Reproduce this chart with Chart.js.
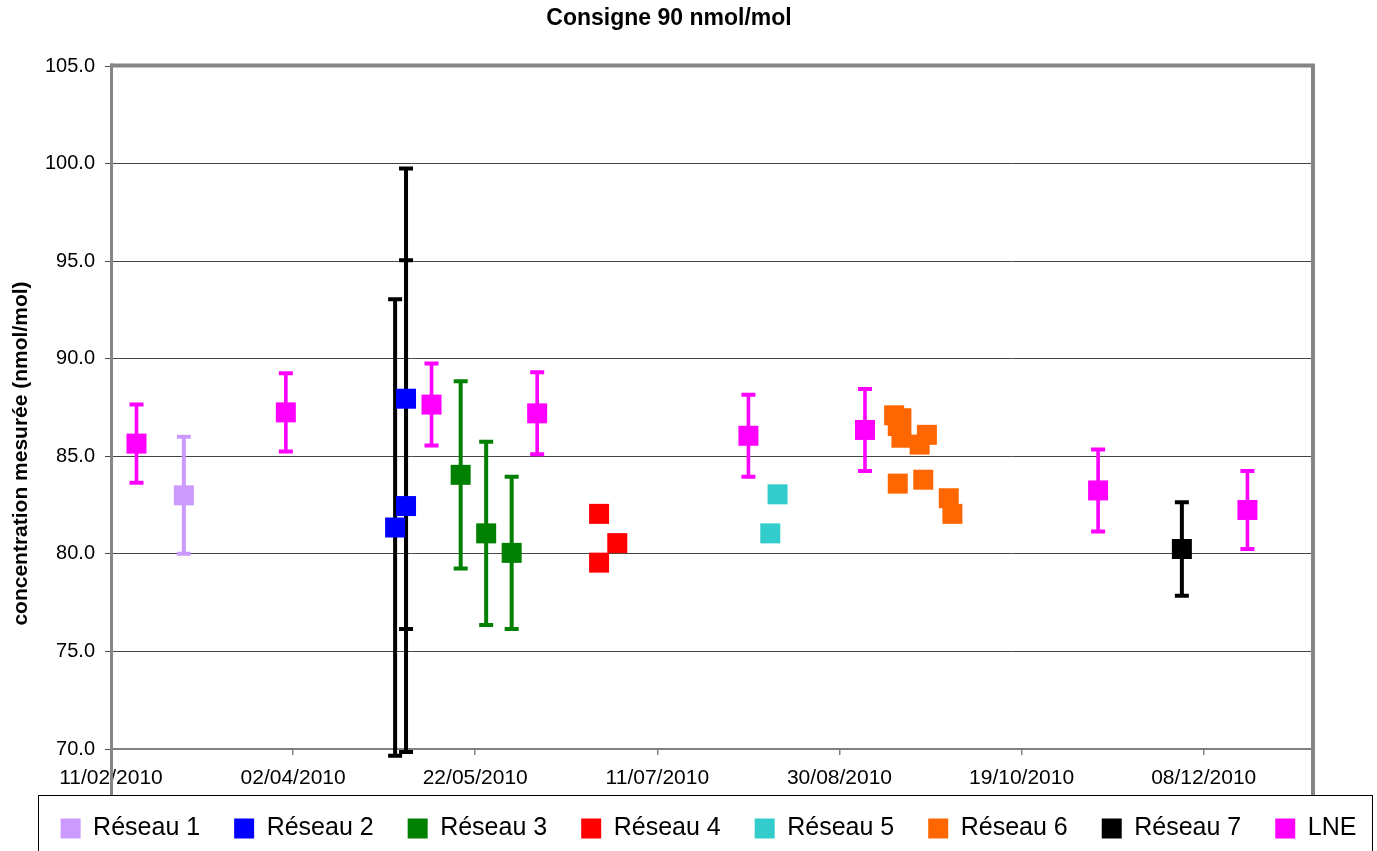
<!DOCTYPE html>
<html>
<head>
<meta charset="utf-8">
<script src="https://cdn.jsdelivr.net/npm/chart.js@4/dist/chart.umd.min.js"></script>
<style>
  html, body { margin: 0; padding: 0; background: #fff; }
  #wrap { width: 1377px; height: 851px; }
</style>
</head>
<body>
<div id="wrap"><canvas id="c" width="1377" height="851"></canvas></div>
<script>
// ---------- data ----------
const chartTitle = 'Consigne 90 nmol/mol';
const yAxisTitle = 'concentration mesurée (nmol/mol)';
const tickDates = ['11/02/2010','02/04/2010','22/05/2010','11/07/2010','30/08/2010','19/10/2010','08/12/2010'];
const xMinDate = '11/02/2010';
const xMaxDate = '07/01/2011';
const yMin = 70, yMax = 105, yStep = 5;

const seriesNames = ['Réseau 1','Réseau 2','Réseau 3','Réseau 4','Réseau 5','Réseau 6','Réseau 7','LNE'];

const r1Dates  = ['03/03/2010'];
const r1Values = [83.0];
const r1Err    = [3.0];

const r2Dates  = ['30/04/2010','03/05/2010','03/05/2010'];
const r2Values = [81.35, 87.95, 82.45];
const r2Err    = [11.7, 11.8, 12.6];

const r3Dates  = ['18/05/2010','25/05/2010','01/06/2010'];
const r3Values = [84.05, 81.05, 80.05];
const r3Err    = [4.8, 4.7, 3.9];

const r4Dates  = ['25/06/2010','25/06/2010','30/06/2010'];
const r4Values = [82.05, 79.55, 80.55];

const r5Dates  = ['11/08/2010','13/08/2010'];
const r5Values = [81.05, 83.05];

const r6Dates  = ['14/09/2010','15/09/2010','16/09/2010','16/09/2010','21/09/2010','23/09/2010','15/09/2010','22/09/2010','29/09/2010','30/09/2010'];
const r6Values = [87.1, 86.55, 86.95, 85.95, 85.6, 86.1, 83.6, 83.8, 82.85, 82.05];

const r7Dates  = ['02/12/2010'];
const r7Values = [80.25];
const r7Err    = [2.4];

const lneDates  = ['18/02/2010','31/03/2010','10/05/2010','08/06/2010','05/08/2010','06/09/2010','09/11/2010','20/12/2010'];
const lneValues = [85.65, 87.25, 87.65, 87.2, 86.05, 86.35, 83.25, 82.25];
const lneErr    = [2.0, 2.0, 2.1, 2.1, 2.1, 2.1, 2.1, 2.0];

// ---------- helpers ----------
const FONT = "'Liberation Sans', Arial, sans-serif";
function day(s) { const [d, m, y] = s.split('/').map(Number); return Date.UTC(y, m - 1, d) / 86400000; }
function pts(dates, values) { return dates.map((d, i) => ({ x: day(d), y: values[i] })); }

function ds(name, dates, values, color, err, errColor, errWidth) {
  return {
    label: name,
    data: pts(dates, values),
    backgroundColor: color,
    borderColor: color,
    borderWidth: 0,
    pointStyle: 'rect',
    pointRadius: 14.14,
    pointHoverRadius: 14.14,
    xAxisID: 'x',
    yAxisID: 'y',
    errorBars: err || null,
    errorColor: errColor || color,
    errorWidth: errWidth || 4
  };
}

const datasets = [
  ds(seriesNames[0], r1Dates, r1Values, '#CC99FF', r1Err, '#CC99FF'),
  ds(seriesNames[1], r2Dates, r2Values, '#0000FF', r2Err, '#000000'),
  ds(seriesNames[2], r3Dates, r3Values, '#008000', r3Err, '#008000'),
  ds(seriesNames[3], r4Dates, r4Values, '#FF0000'),
  ds(seriesNames[4], r5Dates, r5Values, '#33CCCC'),
  ds(seriesNames[5], r6Dates, r6Values, '#FF6600'),
  ds(seriesNames[6], r7Dates, r7Values, '#000000', r7Err, '#000000'),
  ds(seriesNames[7], lneDates, lneValues, '#FF00FF', lneErr, '#FF00FF', 3.6)
];

// ---------- plugins ----------
const errorBarPlugin = {
  id: 'errorBars',
  beforeDatasetsDraw(chart) {
    const { ctx } = chart;
    const xs = chart.scales.x, ys = chart.scales.y;
    chart.data.datasets.forEach((d) => {
      if (!d.errorBars) return;
      ctx.save();
      ctx.strokeStyle = d.errorColor;
      ctx.lineCap = 'butt';
      d.data.forEach((p, j) => {
        const e = d.errorBars[j];
        const x = xs.getPixelForValue(p.x);
        const yt = ys.getPixelForValue(p.y + e);
        const yb = ys.getPixelForValue(p.y - e);
        ctx.lineWidth = d.errorWidth;
        ctx.beginPath();
        ctx.moveTo(x, yt); ctx.lineTo(x, yb);
        ctx.stroke();
        ctx.lineWidth = 4;
        ctx.beginPath();
        ctx.moveTo(x - 7, yt); ctx.lineTo(x + 7, yt);
        ctx.moveTo(x - 7, yb); ctx.lineTo(x + 7, yb);
        ctx.stroke();
      });
      ctx.restore();
    });
  }
};

const framePlugin = {
  id: 'excelFrame',
  afterLayout(chart) {
    const t = chart.titleBlock;
    if (t) { t.left -= 19.5; t.right -= 19.5; }
    const l = chart.legend;
    if (l) { l.left += 20; l.right += 20; }
    // let the date labels overflow into the space above the legend frame
    const xs = chart.scales.x;
    if (xs) { xs.bottom += 12; }
  },
  afterDraw(chart) {
    const { ctx, chartArea: a, legend: l } = chart;
    const bt = l.top + 13;
    ctx.save();
    ctx.strokeStyle = '#868686';
    ctx.lineWidth = 3;
    ctx.beginPath();
    ctx.moveTo(a.left + 0.5, a.top - 2.5); ctx.lineTo(a.left + 0.5, bt);
    ctx.stroke();
    ctx.lineWidth = 4;
    ctx.beginPath();
    ctx.moveTo(a.left - 1, a.top - 0.5); ctx.lineTo(a.right + 2, a.top - 0.5);
    ctx.moveTo(a.right, a.top - 2.5); ctx.lineTo(a.right, bt);
    ctx.stroke();
    // legend frame
    ctx.strokeStyle = '#000';
    ctx.lineWidth = 1;
    ctx.strokeRect(l.left + 18.5, bt + 0.5, (l.right - 25) - (l.left + 18), 120);
    // y axis title
    ctx.fillStyle = '#000';
    ctx.font = 'bold 21px ' + FONT;
    ctx.textAlign = 'center';
    ctx.textBaseline = 'middle';
    ctx.translate(21, (a.top + a.bottom) / 2 + 46);
    ctx.rotate(-Math.PI / 2);
    ctx.fillText(yAxisTitle, 0, 0);
    ctx.restore();
  }
};

// ---------- chart ----------
new Chart(document.getElementById('c'), {
  type: 'scatter',
  data: { datasets },
  plugins: [errorBarPlugin, framePlugin],
  options: {
    responsive: false,
    animation: false,
    events: [],
    layout: { padding: { left: 0, right: 0, top: 0, bottom: 0 } },
    plugins: {
      tooltip: { enabled: false },
      title: {
        display: true,
        text: chartTitle,
        color: '#000',
        font: { family: FONT, size: 23, weight: 'bold' },
        padding: { top: 5, bottom: 33.4 }
      },
      legend: {
        display: true,
        position: 'bottom',
        align: 'center',
        labels: {
          boxWidth: 20,
          boxHeight: 20,
          padding: 34,
          color: '#000',
          font: { family: FONT, size: 25 }
        }
      }
    },
    scales: {
      x: {
        type: 'linear',
        position: 'bottom',
        min: day(xMinDate),
        max: day(xMaxDate),
        afterBuildTicks(scale) { scale.ticks = tickDates.map(d => ({ value: day(d) })); },
        afterFit(scale) { scale.height = 33; },
        ticks: {
          autoSkip: false,
          maxRotation: 0,
          minRotation: 0,
          padding: 11,
          color: '#000',
          font: { family: FONT, size: 21 },
          callback: (v, i) => tickDates[i]
        },
        grid: { display: true, drawOnChartArea: false, drawTicks: true, tickLength: 6, color: '#808080', lineWidth: 1.5 },
        border: { display: true, color: '#808080', width: 2 }
      },
      y: {
        type: 'linear',
        position: 'left',
        min: yMin,
        max: yMax,
        afterFit(scale) { scale.width = 111; },
        ticks: {
          stepSize: yStep,
          padding: 10,
          color: '#000',
          font: { family: FONT, size: 20 },
          callback: (v) => Number(v).toFixed(1)
        },
        grid: { color: '#454545', lineWidth: 1, tickLength: 6, tickColor: '#454545' },
        border: { display: false }
      },
      yR: {
        type: 'linear',
        position: 'right',
        display: true,
        afterFit(scale) { scale.width = 64; },
        ticks: { display: false },
        grid: { display: false },
        border: { display: false }
      }
    }
  }
});
</script>
</body>
</html>
